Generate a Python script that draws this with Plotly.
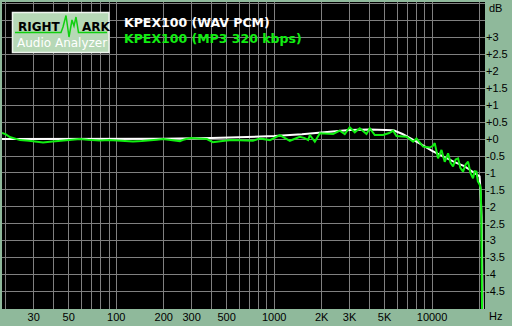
import numpy as np
import plotly.graph_objects as go

# ---------------- data ----------------
wav_freq = [18.9, 30, 50, 100, 200, 400, 600, 800, 1000, 1500, 2000, 2500, 3000, 4000,
            5000, 5700, 6500, 7500, 8500, 10000, 11500, 13000, 13600, 14500, 16000, 17500,
            18500, 19500, 20000, 20200, 20400, 20600, 20800, 21000, 21700]
wav_db = [0.0, 0.0, 0.0, 0.0, 0.01, 0.03, 0.05, 0.07, 0.09, 0.14, 0.19, 0.24, 0.27, 0.28,
          0.28, 0.26, 0.15, 0.0, -0.15, -0.35, -0.5, -0.62, -0.66, -0.72, -0.8, -0.92,
          -1.0, -1.05, -1.1, -1.4, -2.0, -2.3, -4.0, -5.5, -6.0]

mp3_freq = [18.9, 20, 21.2, 23, 24.6, 28, 31, 34.4, 38, 44, 50, 58.9, 66, 78.8, 90, 100,
            115, 127.5, 145, 163, 180, 198, 220, 253, 270, 293, 330, 375, 409, 450, 500,
            548, 620, 733, 789, 812, 940, 1087, 1257, 1453, 1560, 1641, 1683, 1810, 1946,
            2147, 2363, 2604, 2800, 3011, 3240, 3484, 3843, 4034, 4337, 4893, 5350, 5666,
            5953, 6887, 7585, 7970, 8774, 9665, 10140, 10400, 10910, 11470, 12030, 12630,
            13100, 13580, 14100, 14610, 15100, 15720, 16300, 16900, 17500, 18170, 18600,
            19100, 19500, 20050, 20300, 20500, 20650, 20800]
mp3_db = [0.18, 0.14, 0.06, 0.0, -0.03, -0.05, -0.08, -0.1, -0.08, -0.06, -0.03, 0.0,
          -0.02, -0.04, -0.03, -0.04, -0.06, -0.07, -0.06, -0.05, -0.02, 0.0, -0.03, -0.06,
          -0.01, 0.03, 0.02, 0.0, -0.09, -0.06, -0.04, -0.03, -0.04, -0.05, 0.0, 0.02,
          -0.03, 0.12, -0.05, 0.07, 0.03, -0.03, 0.12, -0.08, 0.17, 0.15, 0.15, 0.25, 0.15,
          0.35, 0.2, 0.32, 0.15, 0.32, 0.12, 0.12, 0.18, 0.25, 0.09, 0.07, -0.08, 0.02,
          -0.22, -0.25, -0.2, -0.12, -0.57, -0.32, -0.67, -0.42, -0.7, -0.81, -0.6, -0.57,
          -0.85, -0.96, -0.75, -0.67, -1.0, -1.16, -0.95, -0.96, -1.25, -1.35, -1.45, -2.1,
          -3.2, -6.0]

series_names = ["KPEX100 (WAV PCM)", "KPEX100 (MP3 320 kbps)"]

x_grid = [20, 30, 40, 50, 60, 70, 80, 90, 100, 200, 300, 400, 500, 600, 700, 800, 900,
          1000, 2000, 3000, 4000, 5000, 6000, 7000, 8000, 9000, 10000, 20000]
x_labels = {30: "30", 50: "50", 100: "100", 200: "200", 300: "300", 500: "500",
            1000: "1000", 2000: "2K", 3000: "3K", 5000: "5K", 10000: "10000"}

y_grid = [-4.5, -4, -3.5, -3, -2.5, -2, -1.5, -1, -0.5, 0, 0.5, 1, 1.5, 2, 2.5, 3, 3.5, 4]
y_labels = ["-4.5", "-4", "-3.5", "-3", "-2.5", "-2", "-1.5", "-1", "-0.5", "+0", "+0.5",
            "+1", "+1.5", "+2", "+2.5", "+3", "", ""]

# ---------------- layout geometry ----------------
W, H = 512, 326
PL, PR, PT, PB = 2, 485, 2, 309
BG = "#8fb99b"
GREEN = "#11ee11"


def px(x):
    return (x - PL) / (PR - PL)


def py(y):
    return (PB - y) / (PB - PT)


fig = go.Figure()
fig.add_trace(go.Scatter(x=wav_freq, y=wav_db, mode="lines", name=series_names[0],
                         line=dict(color="white", width=2), showlegend=False))
fig.add_trace(go.Scatter(x=mp3_freq, y=mp3_db, mode="lines", name=series_names[1],
                         line=dict(color=GREEN, width=2), showlegend=False))

fig.update_layout(
    width=W, height=H,
    margin=dict(l=PL, r=W - PR, t=PT, b=H - PB),
    paper_bgcolor=BG, plot_bgcolor="black",
    font=dict(family="Liberation Sans, Arial, sans-serif", size=11, color="black"),
    xaxis=dict(type="log", range=[np.log10(18.9), np.log10(21640)],
               tickvals=x_grid, ticktext=[x_labels.get(v, "") for v in x_grid],
               showgrid=True, gridcolor="#808080", gridwidth=1, ticks="",
               zeroline=False, showline=False, fixedrange=True),
    yaxis=dict(range=[-5.02, 4.05], side="right", tickvals=y_grid, ticktext=y_labels,
               showgrid=True, gridcolor="#808080", gridwidth=1, ticks="",
               zeroline=False, showline=False, fixedrange=True),
)

annotations = [
    dict(text="dB", x=px(487), y=py(8), xanchor="left", yanchor="middle"),
    dict(text="Hz", x=px(487), y=py(316), xanchor="left", yanchor="middle"),
    dict(text="<b>" + series_names[0] + "</b>", x=px(122), y=py(22.7), xanchor="left",
         yanchor="middle", font=dict(family="DejaVu Sans", size=12.5, color="white")),
    dict(text="<b>" + series_names[1] + "</b>", x=px(122), y=py(38.3), xanchor="left",
         yanchor="middle", font=dict(family="DejaVu Sans", size=12.5, color=GREEN)),
    dict(text="<b>RIGHT</b>", x=px(15.5), y=py(26.5), xanchor="left", yanchor="middle",
         font=dict(family="DejaVu Sans", size=12, color="black")),
    dict(text="<b>ARK</b>", x=px(79.5), y=py(26.5), xanchor="left", yanchor="middle",
         font=dict(family="DejaVu Sans", size=12, color="black")),
    dict(text="Audio Analyzer", x=px(15), y=py(43.5), xanchor="left", yanchor="middle",
         font=dict(family="DejaVu Sans", size=12, color="white")),
]
for a in annotations:
    a.update(xref="paper", yref="paper", showarrow=False)
fig.update_layout(annotations=annotations)

# logo box and waveform
wave = [(15, 32.5), (61, 32.5), (63, 27), (66, 15.5), (69, 37), (72, 20), (74, 26),
        (76, 17), (78.5, 32.5), (107, 32.5)]
path = "M " + " L ".join(f"{px(x):.5f},{py(y):.5f}" for x, y in wave)
fig.update_layout(shapes=[
    dict(type="rect", xref="paper", yref="paper", x0=px(12.5), x1=px(109), y0=py(52.5),
         y1=py(12.5), fillcolor="#b6d8b6", line=dict(color="#eef4ee", width=1.5),
         layer="above"),
    dict(type="path", xref="paper", yref="paper", path=path,
         line=dict(color="#10d010", width=1.5), layer="above"),
])

fig.write_html("out.html")
